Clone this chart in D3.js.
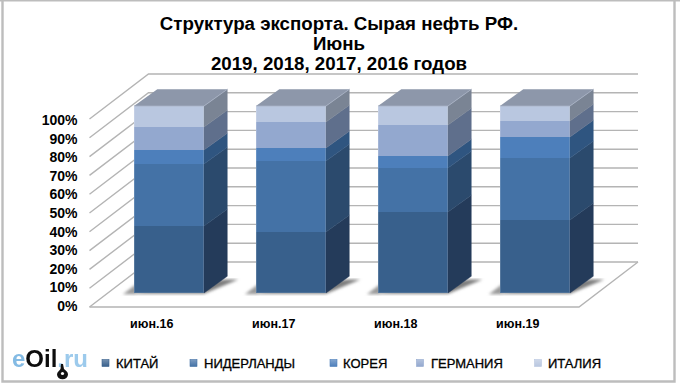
<!DOCTYPE html>
<html><head><meta charset="utf-8">
<script src="https://cdn.jsdelivr.net/npm/d3@7/dist/d3.min.js"></script>
<style>html,body{margin:0;padding:0;background:#fff}svg{display:block}text{font-family:"Liberation Sans",Arial,sans-serif;font-weight:bold;fill:#000}</style>
</head><body><script>
const categories = ["июн.16","июн.17","июн.18","июн.19"];
const seriesNames = ["КИТАЙ","НИДЕРЛАНДЫ","КОРЕЯ","ГЕРМАНИЯ","ИТАЛИЯ"];
const china = [36.1,32.7,43.3,39.3];
const netherlands = [33.0,37.6,23.6,32.7];
const korea = [7.3,7.1,6.4,11.2];
const germany = [12.1,13.7,16.5,8.7];
const italy = [11.5,8.9,10.2,8.1];
const ticks = [0,10,20,30,40,50,60,70,80,90,100];
const titleLines = ["Структура экспорта. Сырая нефть РФ.","Июнь","2019, 2018, 2017, 2016 годов"];
const frontColors = ["#38608c","#4472a6","#4d7fbb","#93a8cf","#b9c7e0"];
const sideColors = ["#243b5a","#2b4a6d","#2f5580","#5f6f8c","#7a8494"];
const topColor = "#8d97aa";

const svg = d3.select("body").append("svg").attr("width",680).attr("height",385);
const defs = svg.append("defs");
defs.append("filter").attr("id","blur").append("feGaussianBlur").attr("stdDeviation",1.6);
defs.append("filter").attr("id","logoBlur").append("feGaussianBlur").attr("stdDeviation",0.4);
seriesNames.forEach((s,i)=>{
  const g=defs.append("linearGradient").attr("id","mk"+i).attr("x1",0).attr("y1",0).attr("x2",0).attr("y2",1);
  g.append("stop").attr("offset",0).attr("stop-color",d3.interpolateRgb(frontColors[i],"#fff")(0.3));
  g.append("stop").attr("offset",1).attr("stop-color",frontColors[i]);
});

// frame
svg.append("path").attr("d","M2.5,0V381.5H674.5V0").attr("fill","none").attr("stroke","#bdbdbd").attr("stroke-width",2.4);
svg.append("path").attr("d","M0,0.5H680").attr("stroke","#bdbdbd").attr("stroke-width",2);

// axes geometry
const gy = d3.scaleLinear().domain([0,100]).range([307,119]);
const gridDepth = {x:59,y:-45}, gridL=89.5, gridR=579;
const grid = svg.append("g").attr("fill","none").attr("stroke","#b4b4b4").attr("stroke-width",1.4);
grid.selectAll("path").data(ticks).join("path")
  .attr("d",t=>`M${gridL},${gy(t)}L${gridL+gridDepth.x},${gy(t)+gridDepth.y}L${gridR+gridDepth.x},${gy(t)+gridDepth.y}`);
grid.append("path").attr("d",`M${gridL},${gy(0)}H${gridR}L${gridR+gridDepth.x},${gy(0)+gridDepth.y}`);

// y tick labels
const labelY = d3.scaleLinear().domain([0,100]).range([311,125]);
svg.append("g").selectAll("text").data(ticks).join("text")
  .attr("x",77.5).attr("y",t=>labelY(t)).attr("text-anchor","end").attr("font-size",14).text(t=>t+"%");

// bars
const x = d3.scaleBand().domain(categories).range([108,596]).paddingInner(0.4262).paddingOuter(0.2131);
const by = d3.scaleLinear().domain([0,100]).range([293.3,105.7]);
const dx=23.3, dy=-16.7;
const stacked = d3.stack().keys(seriesNames.map((_,i)=>i)).value((d,k)=>d[k])(
  categories.map((_,c)=>[china[c],netherlands[c],korea[c],germany[c],italy[c]]));

const shadow = svg.append("g").attr("filter","url(#blur)");
categories.forEach(c=>{
  const l=x(c), w=x.bandwidth(), b=by(0);
  shadow.append("path").attr("fill","#7d7d7d")
    .attr("d",`M${l-11},${b+0.5}L${l+w},${b+0.5}L${l+w+dx+11},${b+dy+3}L${l+w+dx-2},${b+dy+3}Z`);
  shadow.append("path").attr("fill","#9a9a9a")
    .attr("d",`M${l-11},${b+1}L${l+2},${b-9}L${l+2},${b+1}Z`);
});

const bars = svg.append("g").selectAll("g").data(categories).join("g");
bars.each(function(c,ci){
  const g=d3.select(this), l=x(c), w=x.bandwidth();
  stacked.forEach((s,si)=>{
    const y0=Math.round(by(s[ci][0])), y1=Math.round(by(s[ci][1]));
    g.append("rect").attr("x",l).attr("y",y1).attr("width",w).attr("height",y0-y1).attr("fill",frontColors[si]);
    g.append("path").attr("fill",sideColors[si]).attr("stroke",sideColors[si]).attr("stroke-width",0.4)
      .attr("d",`M${l+w},${y0}L${l+w+dx},${y0+dy}L${l+w+dx},${y1+dy}L${l+w},${y1}Z`);
  });
  const t=Math.round(by(100));
  g.append("path").attr("fill",topColor).attr("d",`M${l},${t}L${l+dx},${t+dy}H${l+w+dx}L${l+w},${t}Z`);
  g.append("path").attr("fill","none").attr("stroke","#a9b3c6").attr("stroke-width",1).attr("opacity",0.8)
    .attr("d",`M${l},${t}H${l+w}L${l+w+dx},${t+dy}`);
  g.append("path").attr("fill","none").attr("stroke","#fff").attr("stroke-opacity",0.16).attr("stroke-width",1)
    .attr("d",`M${l+0.5},${t}V${by(0)-0.5}H${l+w-0.5}V${t}`);
});

// x labels
svg.append("g").selectAll("text").data(categories).join("text")
  .attr("x",c=>x(c)+x.bandwidth()/2-17.3).attr("y",328).attr("text-anchor","middle").attr("font-size",12.5).text(c=>c);

// title
svg.append("g").selectAll("text").data(titleLines).join("text")
  .attr("x",339).attr("y",(d,i)=>30+i*20.2).attr("text-anchor","middle").attr("font-size",18.7).text(d=>d);

// legend
const legendX=[102,190,330,416.5,534.5], textX=[116,204,343,431,548];
const lg=svg.append("g").selectAll("g").data(seriesNames).join("g");
lg.append("rect").attr("x",(d,i)=>legendX[i]).attr("y",359.5).attr("width",7).attr("height",7)
  .attr("fill",(d,i)=>`url(#mk${i})`).attr("stroke",(d,i)=>frontColors[i]).attr("stroke-width",0.6);
lg.append("text").attr("x",(d,i)=>textX[i]).attr("y",368).attr("font-size",13).style("font-weight","normal").style("stroke","#000").style("stroke-width",0.3).text(d=>d);

// logo
const logo=svg.append("g");
const lt=logo.append("text").attr("x",12).attr("y",367).attr("font-size",23).attr("filter","url(#logoBlur)")
  .attr("textLength",76).attr("lengthAdjust","spacingAndGlyphs");
lt.append("tspan").style("fill","#84bbe4").text("e");
lt.append("tspan").style("fill","#111").text("Oil");
lt.append("tspan").style("fill","#9ccaec").text(".ru");
logo.append("path").attr("fill","#111").attr("d","M61,364L63,364L64,369C66,371 68,372 68,374.5A5.5,4.8 0 0 1 57,374.5C57,372 59.5,371 60.5,369Z");
logo.append("circle").attr("cx",62.5).attr("cy",373.5).attr("r",1.6).attr("fill","#fff");
</script></body></html>
